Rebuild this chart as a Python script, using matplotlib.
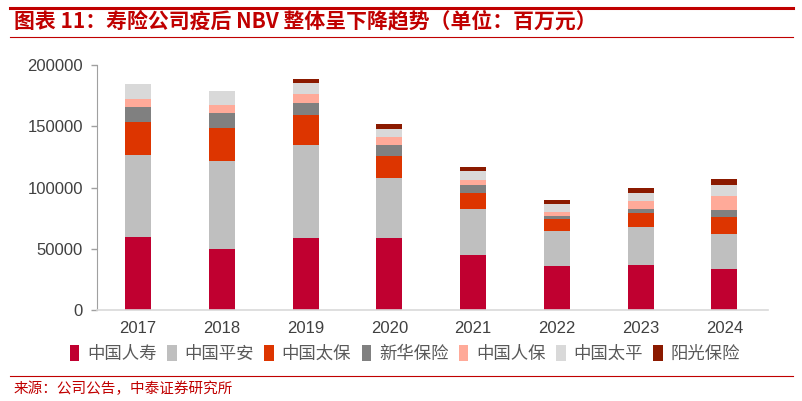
import matplotlib
matplotlib.use("Agg")
import matplotlib.pyplot as plt
from matplotlib.lines import Line2D
import numpy as np

plt.rcParams['font.family'] = ['Liberation Sans', 'Noto Sans CJK SC', 'DejaVu Sans']

years = ["2017", "2018", "2019", "2020", "2021", "2022", "2023", "2024"]
companies = ["中国人寿", "中国平安", "中国太保", "新华保险", "中国人保", "中国太平", "阳光保险"]
colors = ["#C00030", "#BFBFBF", "#DD3500", "#808080", "#FFAA99", "#D9D9D9", "#8B1A00"]

china_life = [59500, 49500, 58700, 58400, 44600, 36000, 36900, 33700]
ping_an = [67400, 72300, 76000, 49600, 37900, 28800, 31100, 28500]
cpic = [26900, 27100, 24600, 17800, 13300, 9800, 11500, 13400]
nci = [12100, 12100, 9700, 9000, 6200, 2100, 3000, 6200]
picc = [6300, 6300, 7100, 6500, 4100, 3300, 6500, 11400]
taiping = [12000, 11700, 9500, 6800, 7700, 6800, 6300, 8700]
sunshine = [0, 0, 2800, 3800, 2700, 3300, 4100, 5200]

series = [china_life, ping_an, cpic, nci, picc, taiping, sunshine]

fig = plt.figure(figsize=(8.03, 4.01), dpi=100)
ax = fig.add_axes([97 / 803, 1 - 310 / 401, (768 - 97) / 803, (310 - 65) / 401])

x = np.arange(len(years))
bottom = np.zeros(len(years))
for name, vals, c in zip(companies, series, colors):
    ax.bar(x, vals, width=0.31, bottom=bottom, color=c, label=name, linewidth=0)
    bottom += np.array(vals)

ax.set_ylim(0, 200000)
ax.set_xlim(-0.49, 7.52)
ax.set_yticks([0, 50000, 100000, 150000, 200000])
ax.set_xticks(x)
ax.set_xticklabels(years)
ax.tick_params(axis='x', length=0, pad=8, labelsize=12, colors="#404040")
ax.tick_params(axis='y', length=4, width=1, color="#A0A0A0", pad=6, labelsize=12, labelcolor="#404040")
for s in ["top", "right"]:
    ax.spines[s].set_visible(False)
ax.spines["left"].set_color("#A0A0A0")
ax.spines["bottom"].set_color("#D9D9D9")
ax.spines["bottom"].set_linewidth(1.2)

handles, labels = ax.get_legend_handles_labels()
leg = fig.legend(handles, labels, loc="center", bbox_to_anchor=(405 / 803, 1 - 354 / 401),
                 ncol=7, frameon=False, handlelength=0.55, handleheight=1.0,
                 handletextpad=0.45, columnspacing=0.6,
                 prop={"family": ["Noto Sans CJK SC"], "size": 12.5})
for t in leg.get_texts():
    t.set_color("#595959")

# header / footer rules
fig.add_artist(Line2D([10 / 803, 793 / 803], [1 - 8 / 401, 1 - 8 / 401], color="#C00000", lw=2.2))
fig.add_artist(Line2D([10 / 803, 793 / 803], [1 - 37 / 401, 1 - 37 / 401], color="#C00000", lw=0.8))
fig.add_artist(Line2D([10 / 803, 793 / 803], [1 - 376 / 401, 1 - 376 / 401], color="#C00000", lw=0.8))

fig.text(14 / 803, 1 - 21 / 401, "图表 11：寿险公司疫后 NBV 整体呈下降趋势（单位：百万元）",
         family=["Noto Sans CJK SC"], fontsize=15, fontweight="bold", color="#C00000", va="center")
fig.text(14 / 803, 1 - 389 / 401, "来源：公司公告，中泰证券研究所",
         family=["Noto Sans CJK SC"], fontsize=10.5, color="#C00000", va="center")

fig.savefig("out.png", dpi=100)
